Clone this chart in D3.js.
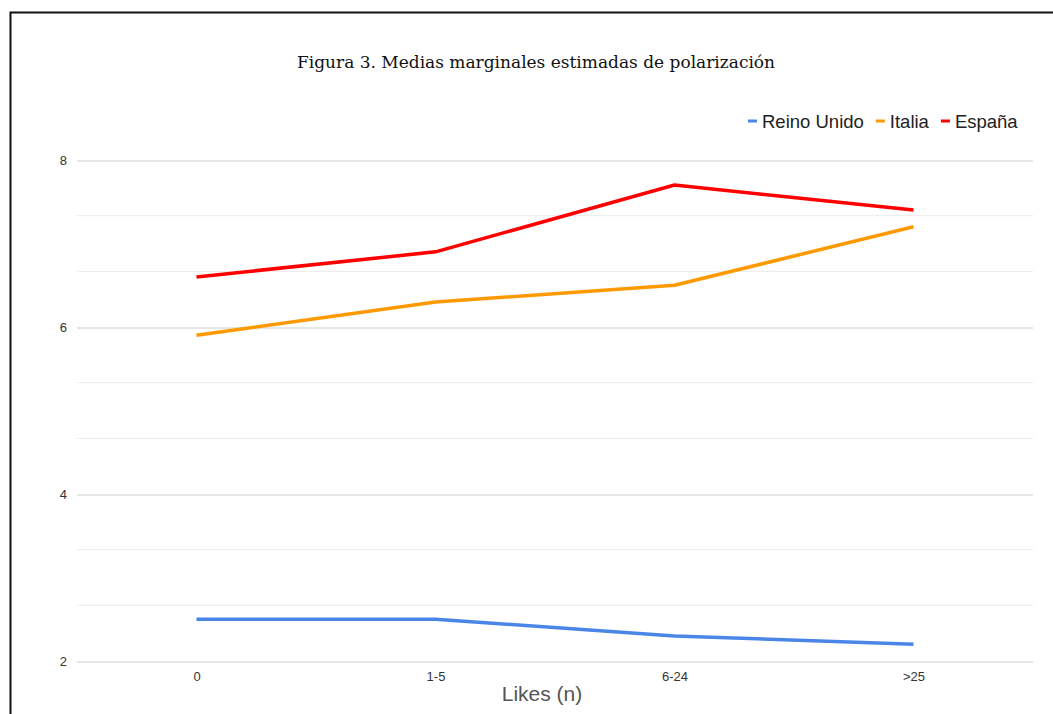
<!DOCTYPE html>
<html>
<head>
<meta charset="utf-8">
<script src="https://cdn.jsdelivr.net/npm/d3@7"></script>
<style>
  body { margin: 0; background: #fff; }
  svg { display: block; }
</style>
</head>
<body>
<main></main>
<script>
const categories = ['0', '1-5', '6-24', '>25'];
const reinoUnido = [2.5, 2.5, 2.3, 2.2];
const italia = [5.9, 6.3, 6.5, 7.2];
const espana = [6.6, 6.9, 7.7, 7.4];
const seriesNames = ['Reino Unido', 'Italia', 'España'];
const yTicks = [2, 4, 6, 8];

const series = [
  { name: seriesNames[0], values: reinoUnido, color: '#4a86e8' },
  { name: seriesNames[1], values: italia, color: '#ff9900' },
  { name: seriesNames[2], values: espana, color: '#ff0000' },
];

const width = 1053;
const height = 714;
const plot = { left: 77, right: 1033, top: 160, bottom: 661 };

const svg = d3
  .select('main')
  .append('svg')
  .attr('width', width)
  .attr('height', height);

// outer frame (only top and left edges visible in the picture)
svg
  .append('rect')
  .attr('x', 10.5)
  .attr('y', 12.5)
  .attr('width', width + 20)
  .attr('height', height + 20)
  .attr('fill', 'none')
  .attr('stroke', '#111')
  .attr('stroke-width', 2);

const xScale = d3
  .scalePoint()
  .domain(categories)
  .range([plot.left, plot.right])
  .padding(0.5);

const yScale = d3
  .scaleLinear()
  .domain([2, 8])
  .range([plot.bottom, plot.top]);

// minor gridlines
const minor = d3.range(2, 8.001, 2 / 3).filter(v => !yTicks.some(t => Math.abs(t - v) < 0.01));
svg
  .append('g')
  .selectAll('line')
  .data(minor)
  .join('line')
  .attr('x1', plot.left)
  .attr('x2', plot.right)
  .attr('y1', d => yScale(d))
  .attr('y2', d => yScale(d))
  .attr('stroke', '#ebebeb')
  .attr('stroke-width', 1);

const yAxis = d3
  .axisLeft(yScale)
  .tickValues(yTicks)
  .tickSize(0)
  .tickPadding(10)
  .tickFormat(d3.format('d'));

const yAxisGroup = svg
  .append('g')
  .attr('transform', `translate(${plot.left} 0)`)
  .call(yAxis);

yAxisGroup.select('.domain').remove();
yAxisGroup
  .selectAll('g.tick')
  .append('path')
  .attr('d', `M 0 0.5 h ${plot.right - plot.left}`)
  .attr('stroke', '#cccccc')
  .attr('stroke-width', 1);

const xAxis = d3.axisBottom(xScale).tickSize(0).tickPadding(11);

const xAxisGroup = svg
  .append('g')
  .attr('transform', `translate(0 ${plot.bottom})`)
  .call(xAxis);

xAxisGroup.select('.domain').remove();

svg
  .selectAll('.tick text')
  .attr('fill', '#333')
  .attr('font-family', 'Liberation Sans, Arial, sans-serif')
  .attr('font-size', 13);

const lineGenerator = d3
  .line()
  .x((d, i) => xScale(categories[i]))
  .y(d => yScale(d));

svg
  .append('g')
  .selectAll('path')
  .data(series)
  .join('path')
  .attr('fill', 'none')
  .attr('stroke', d => d.color)
  .attr('stroke-width', 3.5)
  .attr('stroke-linejoin', 'round')
  .attr('d', d => lineGenerator(d.values));

// title
svg
  .append('text')
  .attr('x', 536)
  .attr('y', 68)
  .attr('text-anchor', 'middle')
  .attr('font-family', 'DejaVu Serif, serif')
  .attr('font-size', 17)
  .attr('fill', '#111')
  .text('Figura 3. Medias marginales estimadas de polarización');

// x axis title
svg
  .append('text')
  .attr('x', 542)
  .attr('y', 701)
  .attr('text-anchor', 'middle')
  .attr('font-family', 'Liberation Sans, Arial, sans-serif')
  .attr('font-size', 21)
  .attr('fill', '#555')
  .text('Likes (n)');

// legend
const legend = svg
  .append('g')
  .attr('font-family', 'Liberation Sans, Arial, sans-serif')
  .attr('font-size', 18.5)
  .attr('fill', '#222');

let lx = 748;
series.forEach(s => {
  legend
    .append('line')
    .attr('x1', lx)
    .attr('x2', lx + 9)
    .attr('y1', 121)
    .attr('y2', 121)
    .attr('stroke', s.color)
    .attr('stroke-width', 3);
  const t = legend
    .append('text')
    .attr('x', lx + 14)
    .attr('y', 127.5)
    .text(s.name);
  lx += 14 + t.node().getComputedTextLength() + 12;
});
</script>
</body>
</html>
